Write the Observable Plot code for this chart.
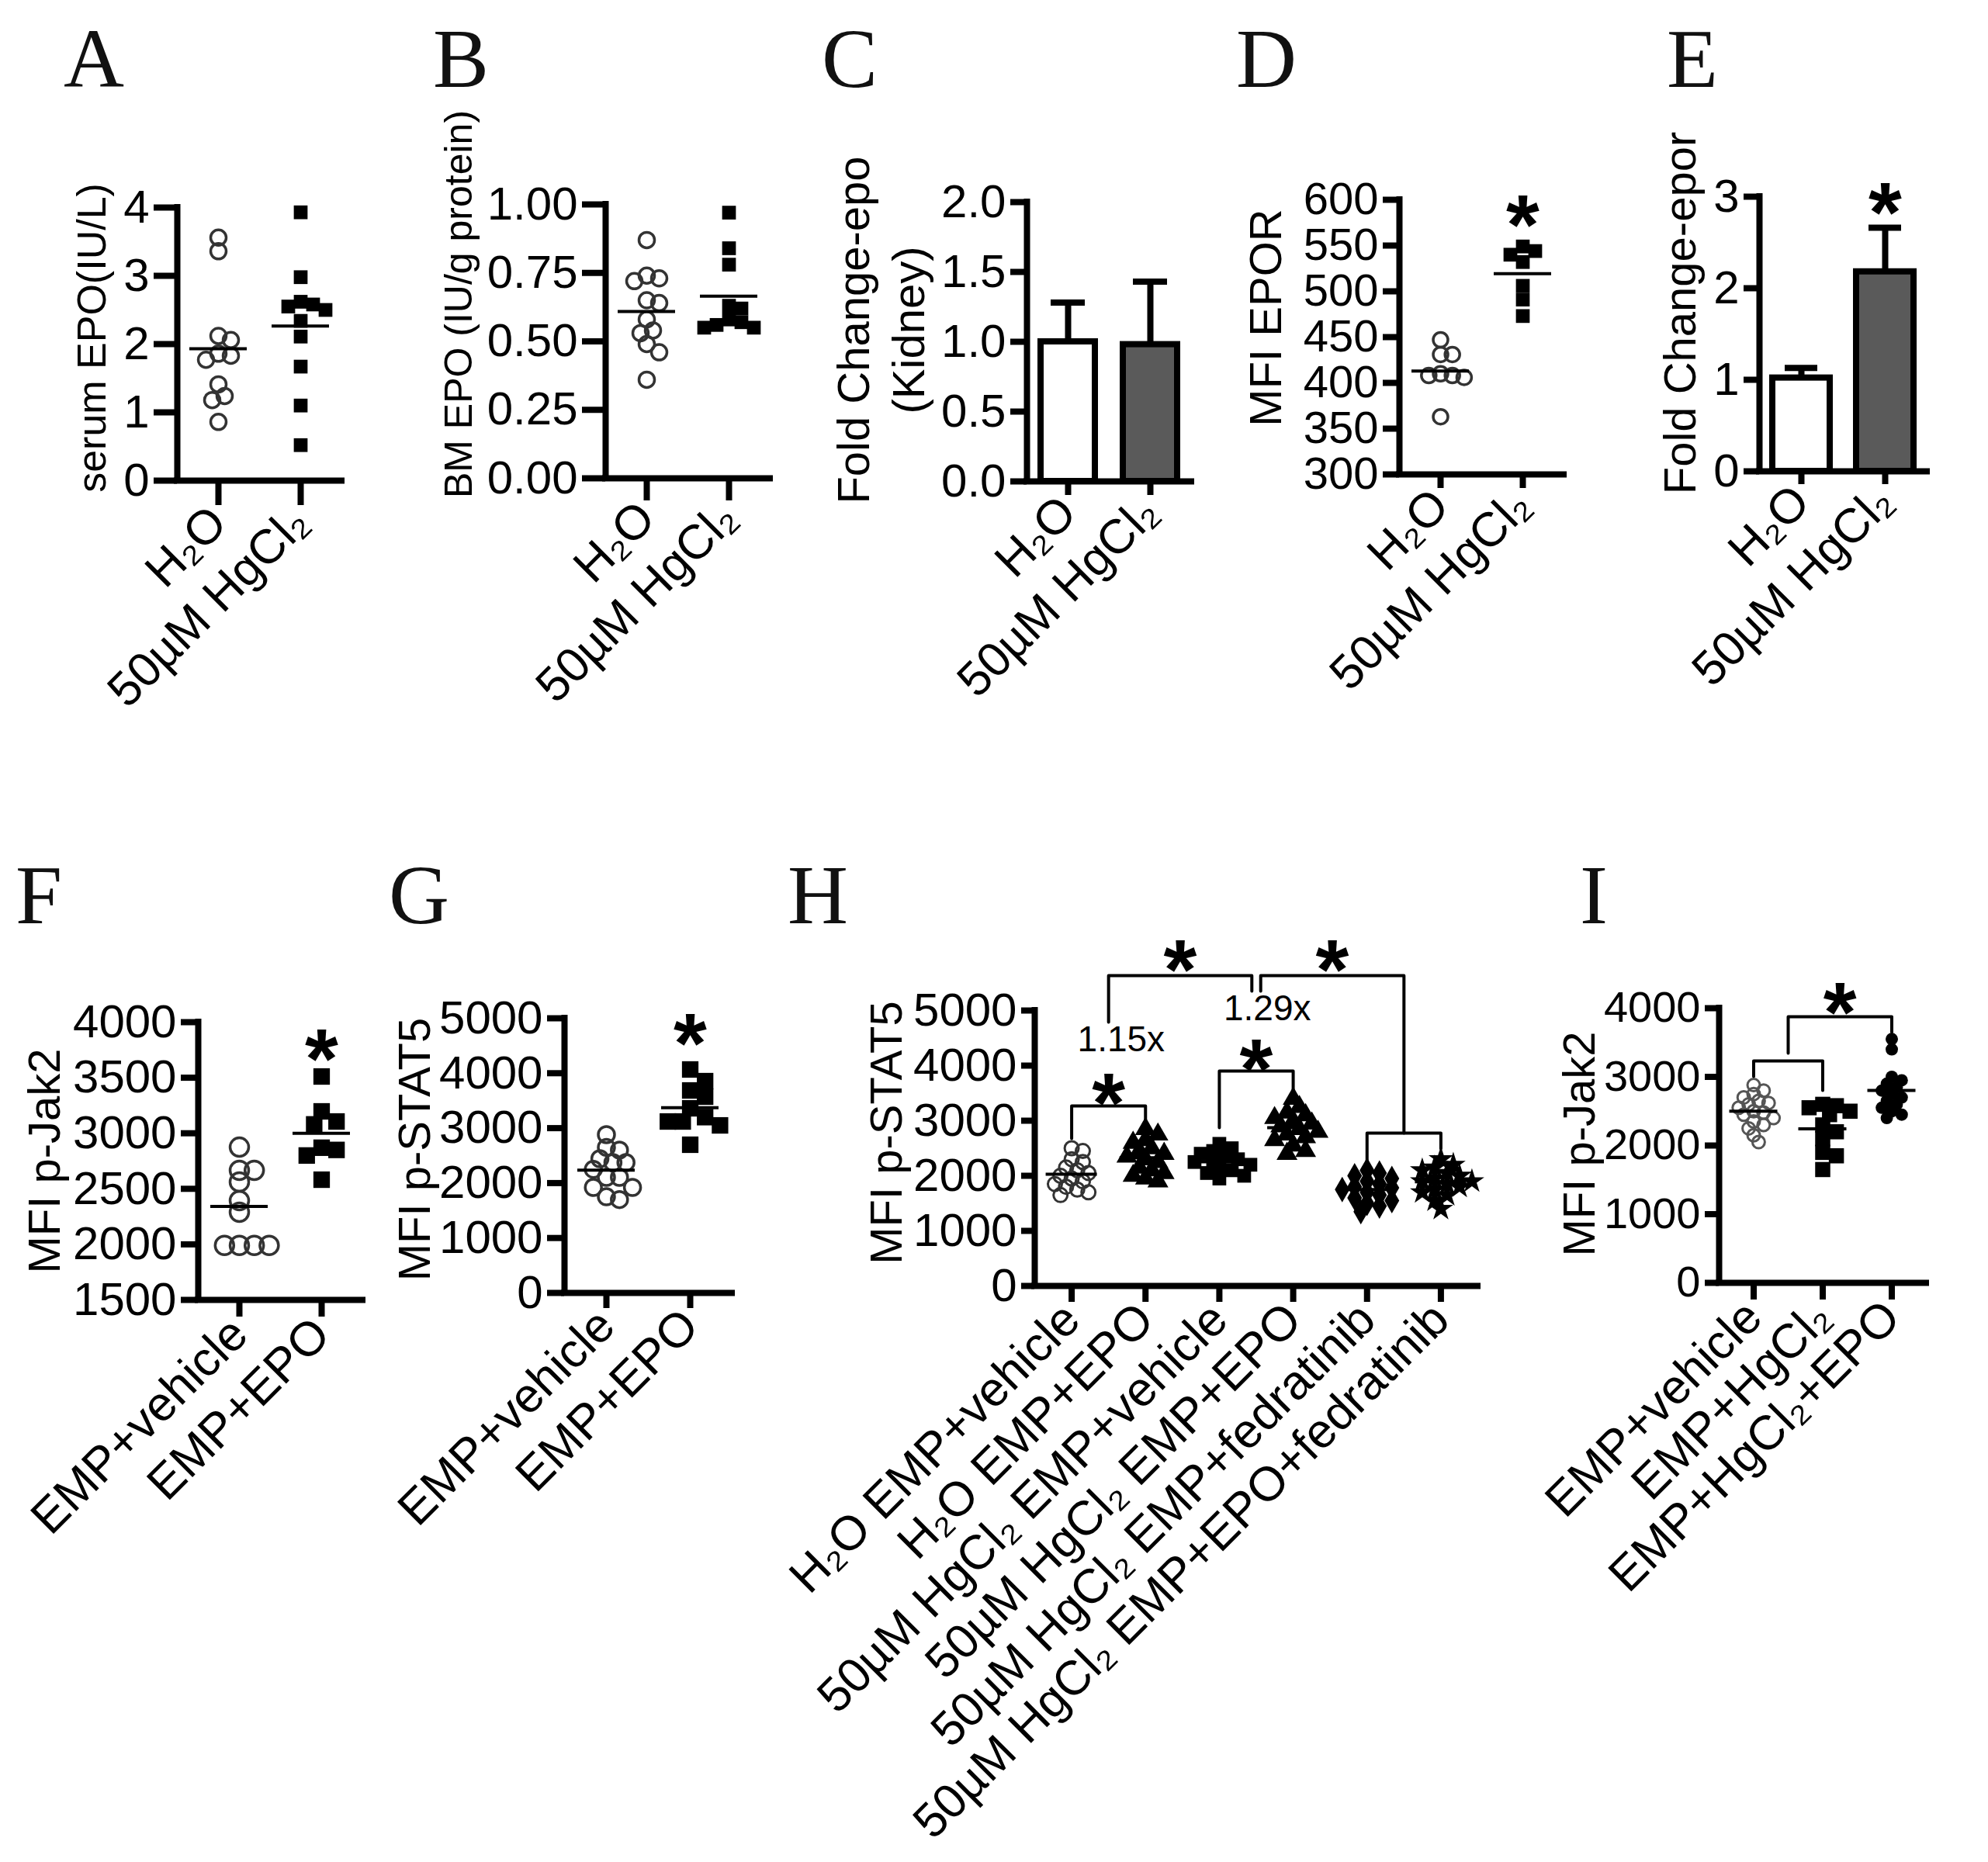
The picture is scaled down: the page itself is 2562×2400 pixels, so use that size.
<!DOCTYPE html>
<html><head><meta charset="utf-8">
<script src="https://cdn.jsdelivr.net/npm/d3@7"></script>
<script src="https://cdn.jsdelivr.net/npm/@observablehq/plot@0.6"></script>
<style>
body{margin:0;background:#fff}
#fig{position:relative;width:2562px;height:2400px;background:#fff;overflow:hidden}
#fig > svg{position:absolute}
</style></head><body><div id="fig"></div>
<script>
// ---------------- DATA ----------------
const topCategories = ["H₂O", "50µM HgCl₂"];
const serumEpoH2O   = [3.56, 3.36, 2.12, 2.06, 1.86, 1.83, 1.77, 1.41, 1.24, 1.18, 0.86];
const serumEpoHgCl2 = [3.93, 2.98, 2.62, 2.58, 2.55, 2.50, 2.34, 2.11, 1.67, 1.10, 0.52];
const bmEpoH2O   = [0.87, 0.74, 0.73, 0.72, 0.65, 0.64, 0.58, 0.54, 0.53, 0.49, 0.46, 0.36];
const bmEpoHgCl2 = [0.97, 0.84, 0.78, 0.63, 0.62, 0.58, 0.57, 0.56, 0.55, 0.55];
const kidneyEpoMean = [1.00, 0.98];
const kidneyEpoSem  = [0.28, 0.45];
const eporMfiH2O   = [447, 431, 431, 410, 408, 408, 406, 363];
const eporMfiHgCl2 = [549, 544, 540, 532, 506, 491, 473];
const eporFoldMean = [1.02, 2.18];
const eporFoldSem  = [0.11, 0.48];

const empCategories = ["EMP+vehicle", "EMP+EPO"];
const pJak2Vehicle = [2875, 2666, 2666, 2561, 2394, 2289, 1990, 1990, 1990, 1990];
const pJak2Epo     = [3511, 3197, 3106, 3080, 2870, 2850, 2800, 2582];
const pStat5Vehicle = [2881, 2650, 2600, 2443, 2373, 2373, 2250, 2105, 2105, 1921, 1921, 1750, 1700];
const pStat5Epo     = [4068, 3856, 3686, 3573, 3361, 3200, 3121, 3121, 3050, 2698];

const hCategories = ["H₂O EMP+vehicle", "H₂O EMP+EPO", "50µM HgCl₂ EMP+vehicle", "50µM HgCl₂ EMP+EPO", "50µM HgCl₂ EMP+fedratinib", "50µM HgCl₂ EMP+EPO+fedratinib"];
const hH2OVehicle = [2500, 2450, 2300, 2250, 2150, 2100, 2050, 2000, 1950, 1900, 1850, 1800, 1750, 1700, 1650];
const hH2OEpo     = [2850, 2750, 2650, 2600, 2500, 2450, 2400, 2350, 2300, 2250, 2150, 2100, 2050, 2000, 1950, 1900];
const hHgVehicle  = [2580, 2500, 2450, 2400, 2350, 2300, 2280, 2250, 2200, 2150, 2100, 2050, 2000, 1950];
const hHgEpo      = [3400, 3250, 3150, 3100, 3050, 3000, 2950, 2900, 2850, 2800, 2750, 2700, 2650, 2550, 2450, 2400];
const hHgFed      = [2100, 2050, 2000, 1950, 1900, 1850, 1800, 1780, 1750, 1700, 1650, 1600, 1550, 1500, 1450, 1350];
const hHgEpoFed   = [2300, 2200, 2150, 2100, 2050, 2000, 1950, 1900, 1900, 1850, 1800, 1750, 1700, 1650, 1550, 1400];

const iCategories = ["EMP+vehicle", "EMP+HgCl₂", "EMP+HgCl₂+EPO"];
const iVehicle  = [2880, 2800, 2750, 2700, 2650, 2620, 2600, 2550, 2500, 2480, 2450, 2400, 2350, 2300, 2250, 2150, 2050];
const iHgCl2    = [2600, 2580, 2550, 2500, 2450, 2300, 2200, 2100, 1900, 1850, 1650];
const iHgCl2Epo = [3550, 3400, 3000, 2950, 2900, 2850, 2800, 2750, 2700, 2650, 2600, 2550, 2500, 2450, 2400];

// significance annotations (x in category-index units, y in data units)
const dStars = [{x: 1.5, y: 593}];
const eStars = [{x: 1.5, y: 3.03}];
const fStars = [{x: 1.5, y: 3839}];
const gStars = [{x: 1.5, y: 4887}];
const hStars = [{x: 1.0, y: 3660}, {x: 3.0, y: 4282}, {x: 1.97, y: 6085}, {x: 4.03, y: 6085}];
const hBrackets = [
  {xa: 0.5, xb: 1.5, y: 3268, ya: 2676, yb: 2986},
  {xa: 2.5, xb: 3.5, y: 3901, ya: 2873, yb: 3479},
  {xa: 4.5, xb: 5.5, y: 2775, ya: 2239, yb: 2493},
  {xa: 1.0, xb: 2.94, y: 5634, ya: 4789, yb: 5352},
  {xa: 3.06, xb: 5.0, y: 5634, ya: 5352, yb: 2775}
];
const hFoldLabels = [{x: 1.17, y: 4470, text: "1.15x"}, {x: 3.15, y: 5028, text: "1.29x"}];
const iStars = [{x: 1.75, y: 4215}];
const iBrackets = [
  {xa: 0.5, xb: 1.5, y: 3232, ya: 3006, yb: 2802},
  {xa: 1.0, xb: 2.5, y: 3876, ya: 3345, yb: 3650}
];

// ---------------- STYLES ----------------
const FONT = '"Liberation Sans", Arial, Helvetica, sans-serif';
const OPEN = {symbol: "circle", fill: "none", stroke: "#333", sw: 3.5, r: 10};
const SQUARE = {symbol: "square", fill: "black", stroke: "none", sw: 0, r: 10};
const fig = document.getElementById("fig");

function swarm(values, ky, band, minDist, step) {
  const order = values.map((v, i) => i).sort((a, b) => values[b] - values[a]);
  const placed = [], out = [];
  for (const i of order) {
    const py = values[i] * ky;
    let ox = 0;
    for (let k = 0; k < 80; k++) {
      const c = k === 0 ? 0 : (k % 2 ? 1 : -1) * Math.ceil(k / 2) * step;
      if (placed.every(p => Math.hypot(p.x - c, p.y - py) >= minDist)) { ox = c; break; }
    }
    placed.push({x: ox, y: py});
    out[i] = ox / band;
  }
  return out;
}

function bracketRows(brs) {
  return brs.flatMap((b, k) => [
    {k, x: b.xa, y: b.ya}, {k, x: b.xa, y: b.y}, {k, x: b.xb, y: b.y}, {k, x: b.xb, y: b.yb}
  ]);
}

function panel(c) {
  const ML = c.ML ?? 250, MR = c.MR ?? 60, MT = c.MT ?? 220, MB = c.MB ?? 780;
  const W = c.right - c.left, H = c.bottom - c.top;
  const n = c.cats.length;
  const [y0, y1] = c.yDomain;
  const ky = H / (y1 - y0), band = W / n;
  const marks = [];
  if (c.bars) {
    const hw = c.bars.half / band, cw = c.bars.cap / band;
    c.bars.means.forEach((m, i) => {
      const row = [{i, m, e: c.bars.errs[i]}];
      marks.push(Plot.ruleX(row, {x: d => d.i + 0.5, y1: d => d.m, y2: d => d.m + d.e, stroke: "black", strokeWidth: 8}));
      marks.push(Plot.ruleY(row, {y: d => d.m + d.e, x1: d => d.i + 0.5 - cw, x2: d => d.i + 0.5 + cw, stroke: "black", strokeWidth: 8}));
      marks.push(Plot.rectY(row, {x1: d => d.i + 0.5 - hw, x2: d => d.i + 0.5 + hw, y1: () => y0, y2: d => d.m, fill: c.bars.fills[i], stroke: "black", strokeWidth: 8}));
    });
  }
  if (c.groups) {
    const mh = (c.meanHalf ?? 37) / band;
    c.groups.forEach((g, i) => {
      const st = g.style;
      const offs = swarm(g.values, ky, band, st.r * 2 * (g.overlap ?? c.overlap ?? 0.75), st.r * 0.8);
      const rows = g.values.map((v, j) => ({x: i + 0.5 + offs[j], y: v}));
      marks.push(Plot.dot(rows, {x: "x", y: "y", r: st.r, symbol: st.symbol, fill: st.fill, stroke: st.stroke, strokeWidth: st.sw}));
      const m = d3.mean(g.values);
      marks.push(Plot.ruleY([m], {y: d => d, x1: () => i + 0.5 - mh, x2: () => i + 0.5 + mh, stroke: "black", strokeWidth: 4}));
    });
  }
  if (c.brackets) {
    marks.push(Plot.line(bracketRows(c.brackets), {x: "x", y: "y", z: "k", stroke: "black", strokeWidth: 4}));
  }
  if (c.labels) {
    marks.push(Plot.text(c.labels, {x: "x", y: "y", text: "text", fontSize: 46, fill: "black"}));
  }
  if (c.stars) {
    marks.push(Plot.text(c.stars, {x: "x", y: "y", text: () => "*", fontSize: 110, fontWeight: "bold", dy: 26, fill: "black"}));
  }
  const tf = c.tickFont ?? 60;
  marks.push(Plot.axisY({ticks: c.yTicks, tickFormat: c.yFmt, tickSize: c.yTick, tickPadding: 6, fontSize: tf, strokeWidth: 8, label: null}));
  marks.push(Plot.axisX({ticks: d3.range(n).map(i => i + 0.5), tickFormat: v => c.cats[Math.round(v - 0.5)], tickSize: c.xTick, tickPadding: 12, tickRotate: -45, fontSize: 62, strokeWidth: 8, label: null}));
  marks.push(Plot.ruleX([0], {stroke: "black", strokeWidth: 8, strokeLinecap: "square"}));
  marks.push(Plot.ruleY([y0], {stroke: "black", strokeWidth: 8, strokeLinecap: "square"}));
  marks.push(Plot.text([c.title], {frameAnchor: "left", textAnchor: "middle", lineAnchor: "middle", rotate: -90, dx: c.titleX - c.left, dy: c.titleDy ?? 0, fontSize: c.titleSize ?? 58, lineHeight: 1.22, fill: "black"}));

  const svg = Plot.plot({
    width: ML + W + MR, height: MT + H + MB,
    marginLeft: ML, marginRight: MR, marginTop: MT, marginBottom: MB,
    x: {domain: [0, n]},
    y: {domain: c.yDomain},
    style: {background: "none", fontFamily: FONT, fontSize: "60px", color: "black", overflow: "visible", maxWidth: "none"},
    marks
  });
  svg.style.left = (c.left - ML) + "px";
  svg.style.top = (c.top - MT) + "px";
  fig.appendChild(svg);
}

const fmtInt = d3.format("d");

// A
panel({left: 228, right: 440, top: 267, bottom: 619, yDomain: [0, 4], yTicks: [0, 1, 2, 3, 4], yFmt: fmtInt,
  yTick: 30, xTick: 32, cats: topCategories, title: "serum EPO(IU/L)", titleX: 115, titleDy: -8, titleSize: 52,
  groups: [{values: serumEpoH2O, style: OPEN}, {values: serumEpoHgCl2, style: SQUARE}]});
// B
panel({left: 780, right: 992, top: 263, bottom: 616, yDomain: [0, 1], yTicks: [0, 0.25, 0.5, 0.75, 1], yFmt: d3.format(".2f"),
  yTick: 30, xTick: 29, cats: topCategories, title: "BM EPO (IU/g protein)", titleX: 588, titleDy: -48, titleSize: 50,
  groups: [{values: bmEpoH2O, style: OPEN}, {values: bmEpoHgCl2, style: SQUARE, overlap: 0.55}]});
// C
panel({left: 1323, right: 1535, top: 260, bottom: 620, yDomain: [0, 2], yTicks: [0, 0.5, 1, 1.5, 2], yFmt: d3.format(".1f"),
  yTick: 21, xTick: 18, cats: topCategories, title: "Fold Change-epo\n(Kidney)", titleX: 1132, titleDy: -15,
  bars: {means: kidneyEpoMean, errs: kidneyEpoSem, fills: ["white", "#5a5a5a"], half: 35, cap: 22}});
// D
panel({left: 1803, right: 2015, top: 257, bottom: 611, yDomain: [300, 600], yTicks: d3.range(300, 601, 50), yFmt: fmtInt,
  yTick: 21, xTick: 18, cats: topCategories, title: "MFI EPOR", titleX: 1628, titleDy: -25, stars: dStars, tickFont: 58,
  groups: [{values: eporMfiH2O, style: {...OPEN, r: 9.5}}, {values: eporMfiHgCl2, style: SQUARE}]});
// E
panel({left: 2267, right: 2483, top: 253, bottom: 607, yDomain: [0, 3], yTicks: [0, 1, 2, 3], yFmt: fmtInt,
  yTick: 20, xTick: 17, cats: topCategories, title: "Fold Change-epor", titleX: 2162, titleDy: -27, stars: eStars, MR: 40,
  bars: {means: eporFoldMean, errs: eporFoldSem, fills: ["white", "#5a5a5a"], half: 37, cap: 21}});
// F
panel({left: 255, right: 467, top: 1317, bottom: 1675, yDomain: [1500, 4000], yTicks: d3.range(1500, 4001, 500), yFmt: fmtInt,
  yTick: 22, xTick: 22, cats: empCategories, title: "MFI p-Jak2", titleX: 54, titleDy: 0, stars: fStars,
  groups: [{values: pJak2Vehicle, style: {...OPEN, r: 12}, overlap: 0.6}, {values: pJak2Epo, style: {...SQUARE, r: 12}}]});
// G
panel({left: 727, right: 943, top: 1312, bottom: 1666, yDomain: [0, 5000], yTicks: d3.range(0, 5001, 1000), yFmt: fmtInt,
  yTick: 22, xTick: 20, cats: empCategories, title: "MFI p-STAT5", titleX: 531, titleDy: -8, stars: gStars,
  groups: [{values: pStat5Vehicle, style: {...OPEN, r: 10.5}}, {values: pStat5Epo, style: {...SQUARE, r: 12}}]});
// H
panel({left: 1333, right: 1904, top: 1302, bottom: 1657, yDomain: [0, 5000], yTicks: d3.range(0, 5001, 1000), yFmt: fmtInt,
  yTick: 17, xTick: 21, cats: hCategories, title: "MFI p-STAT5", titleX: 1139, titleDy: -20, stars: hStars, ML: 260,
  brackets: hBrackets, labels: hFoldLabels, meanHalf: 33, overlap: 0.6,
  groups: [
    {values: hH2OVehicle, style: {...OPEN, r: 9, sw: 3}},
    {values: hH2OEpo, style: {symbol: "triangle", fill: "black", stroke: "none", sw: 0, r: 10}},
    {values: hHgVehicle, style: {symbol: "square", fill: "black", stroke: "none", sw: 0, r: 10}},
    {values: hHgEpo, style: {symbol: "triangle", fill: "black", stroke: "none", sw: 0, r: 10}},
    {values: hHgFed, style: {symbol: "diamond", fill: "black", stroke: "none", sw: 0, r: 10}},
    {values: hHgEpoFed, style: {symbol: "star", fill: "black", stroke: "none", sw: 0, r: 10}}
  ]});
// I
panel({left: 2215, right: 2482, top: 1299, bottom: 1653, yDomain: [0, 4000], yTicks: d3.range(0, 4001, 1000), yFmt: fmtInt,
  yTick: 18, xTick: 22, cats: iCategories, title: "MFI p-Jak2", titleX: 2032, titleDy: -2, stars: iStars, MR: 40, tickFont: 56,
  brackets: iBrackets, meanHalf: 31, overlap: 0.65,
  groups: [
    {values: iVehicle, style: {...OPEN, stroke: "#555", r: 8, sw: 3}},
    {values: iHgCl2, style: {...SQUARE, r: 11}},
    {values: iHgCl2Epo, style: {symbol: "circle", fill: "black", stroke: "none", sw: 0, r: 8}}
  ]});

// panel letters
const letters = [["A", 82, 112], ["B", 558, 112], ["C", 1059, 112], ["D", 1593, 112], ["E", 2148, 112],
                 ["F", 20, 1190], ["G", 501, 1190], ["H", 1015, 1190], ["I", 2036, 1190]];
const ov = d3.create("svg").attr("width", 2562).attr("height", 2400).style("left", "0px").style("top", "0px");
ov.selectAll("text").data(letters).join("text")
  .attr("x", d => d[1]).attr("y", d => d[2]).text(d => d[0])
  .attr("font-family", '"Liberation Serif", "Times New Roman", serif').attr("font-size", 108).attr("fill", "#111");
fig.appendChild(ov.node());
</script></body></html>
